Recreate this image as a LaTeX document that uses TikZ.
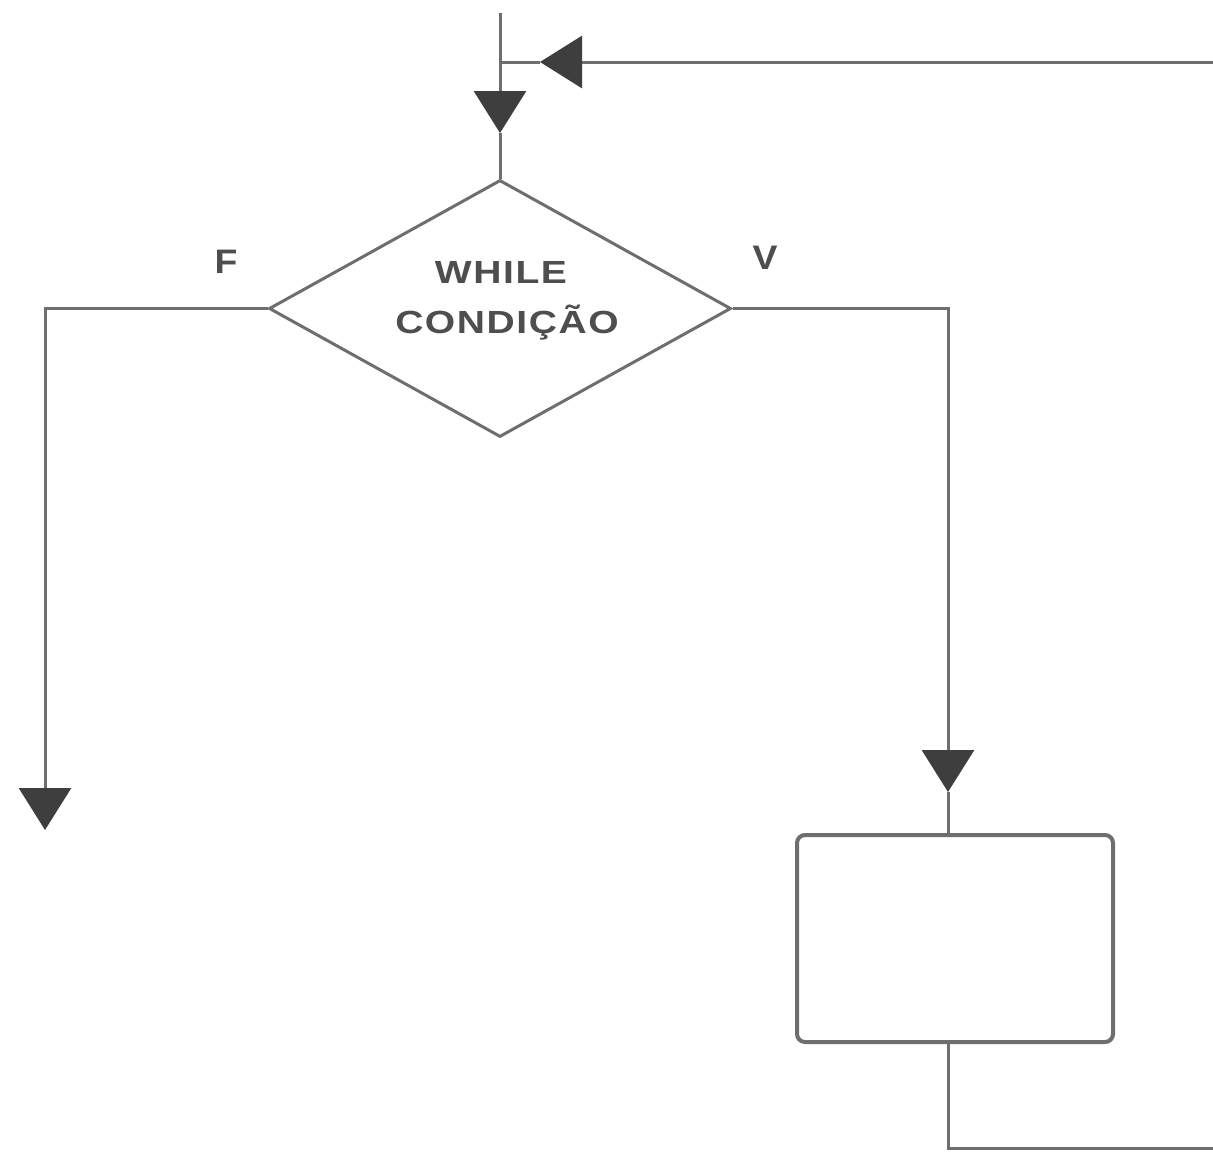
\documentclass[tikz,border=0pt]{standalone}
\usepackage{fontspec}
\newfontfamily\lbl{Liberation Sans}[LetterSpace=4]
\newfontfamily\lblb{Liberation Sans}
\usetikzlibrary{shapes.geometric,arrows.meta}
\definecolor{linec}{RGB}{110,110,110}
\definecolor{tipc}{RGB}{62,62,62}
\definecolor{txtc}{RGB}{78,78,78}
\tikzset{
  conn/.style={draw=linec, line width=3pt},
  tipend/.style={conn, -{Triangle[width=52pt,length=42pt,fill=tipc,color=tipc]}},
  decision/.style={diamond, draw=linec, line width=3pt, minimum width=462pt, minimum height=257pt, aspect=1.8, inner sep=0pt},
  procbox/.style={rectangle, draw=linec, line width=4pt, rounded corners=8pt, minimum width=316pt, minimum height=207pt, inner sep=0pt},
  maintext/.style={text=txtc, font=\lbl\bfseries\fontsize{32}{40}\selectfont, inner sep=0pt, xscale=1.22},
  edgetext/.style={text=txtc, font=\lblb\bfseries\fontsize{34}{40}\selectfont, inner sep=0pt, xscale=1.1}
}
\begin{document}
\begin{tikzpicture}[x=1pt,y=-1pt]
\useasboundingbox[fill=white] (0,0) rectangle (1213,1154);
% nodes
\node[decision] (cond) at (500,308.5) {};
\node[maintext, anchor=base] (w1) at (501,283) {WHILE};
\node[maintext, anchor=base] (w2) at (507,333) {CONDIÇÃO};
\node[procbox] (box) at (955,938.5) {};
\node[edgetext] (flab) at (226,262) {F};
\node[edgetext] (vlab) at (765,258) {V};
% coordinates
\coordinate (topin) at (500,13);
\coordinate (toptip) at (500,133);
\coordinate (junc) at (500,62);
\coordinate (loopin) at (1213,62);
\coordinate (looptip) at (540,62);
\coordinate (ftip) at (45,830);
\coordinate (vcol) at (948,0);
\coordinate (vtip) at (948,792);
\coordinate (loopout) at (1213,1148);
% connectors
\draw[tipend] (topin) -- (toptip);
\draw[conn] (toptip) -- (cond.north);
\draw[tipend] (loopin) -- (looptip);
\draw[conn] (looptip) -- (junc);
\draw[tipend] (cond.west) -| (ftip);
\draw[tipend] (cond.east) -| (vtip);
\draw[conn] (vtip) -- (vcol |- box.north);
\draw[conn] (vcol |- box.south) |- (loopout);
\end{tikzpicture}
\end{document}
